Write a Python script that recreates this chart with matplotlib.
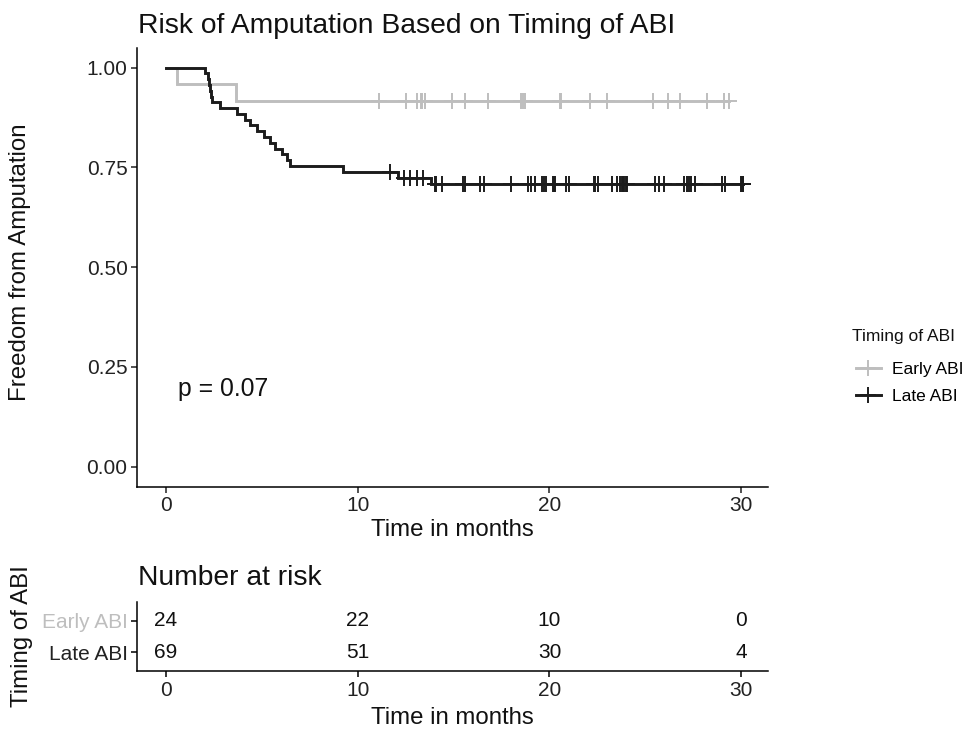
import numpy as np
import matplotlib
matplotlib.use("Agg")
import matplotlib.pyplot as plt
from matplotlib.lines import Line2D

plt.rcParams['font.family'] = ['Liberation Sans', 'DejaVu Sans']

# ---------------- data ----------------
groups = ["Early ABI", "Late ABI"]
colors = ["#BEBEBE", "#1C1C1C"]
label_colors = ["#BEBEBE", "#222222"]

early_event_times = [0.57, 3.65]
early_censor_times = [11.1, 12.5, 13.1, 13.3, 13.35, 13.5, 14.9, 15.6, 16.8, 18.5, 18.6, 18.7,
                      20.55, 20.6, 22.1, 23.0, 25.4, 26.2, 26.8, 28.2, 29.1, 29.35]

late_event_times = [2.03, 2.2, 2.25, 2.3, 2.35, 2.4, 2.8, 3.70, 4.14, 4.40, 4.75, 5.09,
                    5.44, 5.70, 6.05, 6.31, 6.48, 9.25, 12.1, 13.8]
late_censor_times = [11.7, 12.4, 12.7, 13.07, 13.4, 14.03, 14.1, 14.4, 15.5, 15.6, 16.4, 16.6,
                     18.0, 18.9, 19.05, 19.25, 19.6, 19.7, 19.8,
                     20.2, 20.25, 20.3, 20.85, 21.0, 22.3, 22.4, 22.55, 23.25, 23.5, 23.7,
                     23.8, 23.85, 23.9, 24.0, 24.05, 25.5, 25.7, 26.0, 27.0, 27.2, 27.3,
                     27.4, 27.6, 28.99, 29.16, 30.0, 30.05, 30.1, 30.1]

risk_times = [0, 10, 20, 30]
early_at_risk = [24, 22, 10, 0]
late_at_risk = [69, 51, 30, 4]

p_value_text = "p = 0.07"
y_ticks = [0.00, 0.25, 0.50, 0.75, 1.00]
x_ticks = [0, 10, 20, 30]


def kaplan_meier(event_times, censor_times):
    t = np.concatenate([np.asarray(event_times, float), np.asarray(censor_times, float)])
    e = np.concatenate([np.ones(len(event_times)), np.zeros(len(censor_times))])
    order = np.argsort(t, kind="stable")
    t, e = t[order], e[order]
    uniq = np.unique(t)
    s = 1.0
    xs, ys = [0.0], [1.0]
    surv_at = {}
    for u in uniq:
        n = np.sum(t >= u)
        d = np.sum((t == u) & (e == 1))
        if d > 0:
            s *= (1 - d / n)
            xs.append(u)
            ys.append(s)
        surv_at[u] = s
    xs.append(t.max())
    ys.append(s)
    cens = np.asarray(censor_times, float)
    cens_s = np.array([surv_at[c] for c in cens])
    return np.array(xs), np.array(ys), cens, cens_s


W, H = 974, 733
fig = plt.figure(figsize=(W / 100, H / 100), dpi=100)
AX_L, AX_R = 137.3, 768

def px_axes(left, top, right, bottom):
    return fig.add_axes([left / W, 1 - bottom / H, (right - left) / W, (bottom - top) / H])

ax = px_axes(AX_L, 47.7, AX_R, 486.6)
xlim = (-1.5, 31.4)

datasets = [(early_event_times, early_censor_times), (late_event_times, late_censor_times)]
handles = []
for (ev, ce), g, c in zip(datasets, groups, colors):
    xs, ys, cx, cy = kaplan_meier(ev, ce)
    ax.step(xs, ys, where="post", color=c, lw=2.1, solid_joinstyle="miter")
    ax.plot(cx, cy, linestyle="none", marker="+", markersize=11, markeredgewidth=1.4, color=c)
    handles.append(Line2D([0], [0], color=c, lw=2.1, marker="+", markersize=11,
                          markeredgewidth=1.4))

ax.set_xlim(*xlim)
ax.set_ylim(-0.05, 1.05)
ax.set_xticks(x_ticks)
ax.set_yticks(y_ticks)
ax.set_yticklabels([f"{v:.2f}" for v in y_ticks])
for sp in ["top", "right"]:
    ax.spines[sp].set_visible(False)
for sp in ["left", "bottom"]:
    ax.spines[sp].set_linewidth(1.1)
ax.tick_params(axis="both", labelsize=15, length=4, width=1.1, pad=3, colors="#222222")
ax.set_xlabel("Time in months", fontsize=17.3, labelpad=3, color="#111111")
ax.set_ylabel("Freedom from Amputation", fontsize=17.3, color="#111111")
ax.yaxis.set_label_coords((20 - AX_L) / (AX_R - AX_L), 0.512)
ax.yaxis.label.set_va("center")
ax.text(0.63, 0.177, p_value_text, fontsize=17.8, ha="left", va="baseline", color="#111111")

fig.text(138 / W, 1 - 33 / H, "Risk of Amputation Based on Timing of ABI",
         fontsize=20.3, ha="left", va="baseline", color="#111111")

fig.text(852 / W, 1 - 336 / H, "Timing of ABI", fontsize=12.5, ha="left", va="center",
         color="#111111")
leg = fig.legend(handles=handles, labels=groups,
                 loc="upper left", bbox_to_anchor=(840 / W, 1 - 346 / H),
                 frameon=False, fontsize=12.5,
                 handlelength=1.45, handletextpad=0.65, labelspacing=0.72)

# ---------------- risk table ----------------
rax = px_axes(AX_L, 602, AX_R, 671)
rax.set_xlim(*xlim)
rax.set_ylim(1.6, -0.6)
for row, vals in enumerate([early_at_risk, late_at_risk]):
    for t, v in zip(risk_times, vals):
        rax.text(t, row, str(v), fontsize=15, ha="center", va="center", color="#111111")
rax.set_yticks([0, 1])
rax.set_yticklabels(groups)
for lab, c in zip(rax.get_yticklabels(), label_colors):
    lab.set_color(c)
rax.set_xticks(x_ticks)
for sp in ["top", "right"]:
    rax.spines[sp].set_visible(False)
for sp in ["left", "bottom"]:
    rax.spines[sp].set_linewidth(1.1)
rax.tick_params(axis="both", labelsize=15, length=4, width=1.1, pad=3)
rax.tick_params(axis="x", labelcolor="#222222")
rax.set_xlabel("Time in months", fontsize=17.3, labelpad=5, color="#111111")
rax.set_ylabel("Timing of ABI", fontsize=17.3, color="#111111")
rax.yaxis.set_label_coords((21.7 - AX_L) / (AX_R - AX_L), 0.5)
rax.yaxis.label.set_va("center")
fig.text(138 / W, 1 - 585 / H, "Number at risk", fontsize=20.3, ha="left", va="baseline",
         color="#111111")

fig.savefig("out.png", dpi=100)
